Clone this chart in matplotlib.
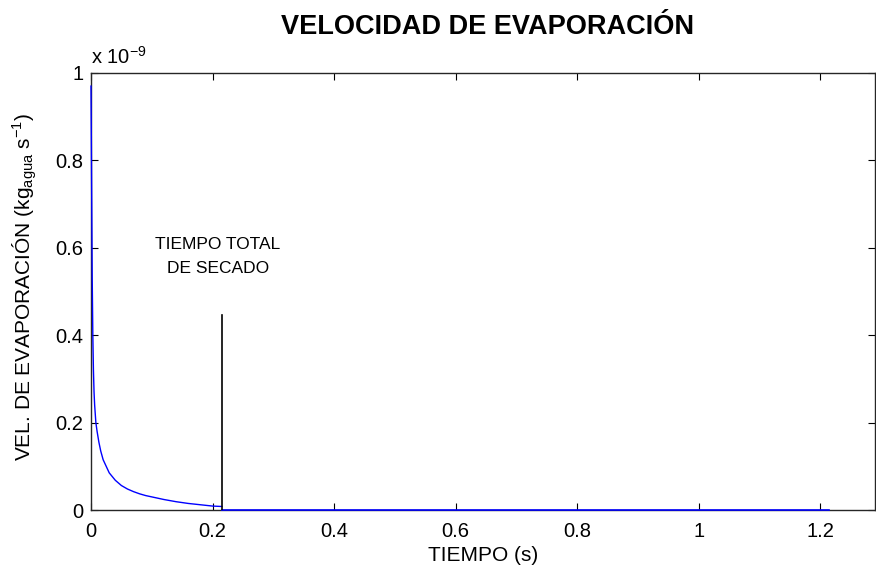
import numpy as np
import matplotlib.pyplot as plt

plt.rcParams['font.family'] = ['Liberation Sans', 'DejaVu Sans']
plt.rcParams['mathtext.default'] = 'regular'

# evaporation rate, units of 1e-9 kg/s
t_curve = [0.0, 0.001, 0.002, 0.003, 0.004, 0.005, 0.006, 0.008, 0.010, 0.013,
           0.016, 0.020, 0.025, 0.030, 0.040, 0.050, 0.060, 0.070, 0.080,
           0.090, 0.100, 0.120, 0.140, 0.160, 0.180, 0.200, 0.2155]
v_curve = [0.97, 0.75, 0.53, 0.40, 0.32, 0.27, 0.24, 0.20, 0.18, 0.155,
           0.135, 0.115, 0.10, 0.085, 0.068, 0.056, 0.048, 0.042, 0.037,
           0.033, 0.030, 0.024, 0.019, 0.015, 0.012, 0.009, 0.008]
t_zero = [0.2155, 1.215]
v_zero = [0.0, 0.0]

t_secado = 0.2155
h_marca = 0.446

fig = plt.figure(figsize=(8.76, 5.71), dpi=100)
ax = fig.add_axes([91 / 876, 1 - 510 / 571, 784 / 876, 437 / 571])

# blue drawn above the spines, as in the original
ax.plot(t_curve, v_curve, color='#0000ff', lw=1.0, zorder=3, clip_on=False)
ax.plot(t_zero, v_zero, color='#0000ff', lw=1.2, zorder=3, clip_on=False)
ax.plot([t_secado, t_secado], [0, h_marca], color='black', lw=1.2, zorder=3)

ax.text(t_secado - 0.0065, 0.579, 'TIEMPO TOTAL\nDE SECADO', ha='center', va='center',
        fontsize=12.5, linespacing=1.75)

ax.set_xlim(0, 1.29)
ax.set_ylim(0, 1)
ax.set_xticks([0, 0.2, 0.4, 0.6, 0.8, 1, 1.2])
ax.set_xticklabels(['0', '0.2', '0.4', '0.6', '0.8', '1', '1.2'])
ax.set_yticks([0, 0.2, 0.4, 0.6, 0.8, 1])
ax.set_yticklabels(['0', '0.2', '0.4', '0.6', '0.8', '1'])
ax.tick_params(direction='in', length=5, top=True, right=True, labelsize=14.5)
ax.tick_params(axis='x', pad=8.5)
ax.tick_params(axis='y', pad=5.5)
for s in ax.spines.values():
    s.set_color('#262626')
    s.set_linewidth(1.0)

ax.set_xlabel('TIEMPO (s)', fontsize=15, labelpad=3.6)
ax.set_ylabel('VEL. DE EVAPORACIÓN (kg$_{agua}$ s$^{-1}$)', fontsize=15, labelpad=11.5)
ax.yaxis.label.set_y(0.511)
fig.text(488 / 876, 1 - 27 / 571, 'VELOCIDAD DE EVAPORACIÓN', ha='center', va='center',
         fontsize=19.5, fontweight='bold')
ax.text(0.0, 1.013, 'x 10$^{-9}$', transform=ax.transAxes, fontsize=14.5,
        ha='left', va='bottom')

fig.savefig('out.png', dpi=100)
